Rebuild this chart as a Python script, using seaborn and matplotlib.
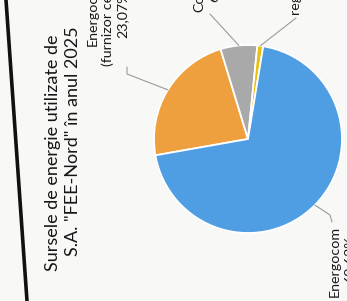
import matplotlib
matplotlib.use("Agg")
import matplotlib.pyplot as plt
import numpy as np
import seaborn as sns

# data (slices in drawing order, clockwise)
sources = ["Energocom (furnizor central)", "Contracte bilaterale", "regenerabile", "Energocom"]
shares = [23.07, 6.30, 1.00, 69.63]
share_labels = ["23,07%", "6,30%", "1,00%", "69,63%"]
colors = ["#eea03e", "#a9a9a9", "#e9bf12", "#4f9ee3"]
title_lines = ["Sursele de energie utilizate de", 'S.A. "FEE-Nord" în anul 2025']

sns.set_theme(style="white")
plt.rcParams["font.family"] = ["Lato", "DejaVu Sans"]

W, H = 347, 301
fig = plt.figure(figsize=(W / 100, H / 100), dpi=100, facecolor="#f8f8f7")

def px(x, y):
    return (x / W, 1 - y / H)

# pie axes: centre (248,139), radius 94 px
cx, cy, r = 248, 139, 94
ax = fig.add_axes([(cx - r) / W, (H - cy - r) / H, 2 * r / W, 2 * r / H])
ax.set_facecolor("none")
wedges, _ = ax.pie(shares, colors=colors, startangle=190, counterclock=False,
                   radius=1, wedgeprops=dict(edgecolor="white", linewidth=1.3))
ax.set_xlim(-1, 1)
ax.set_ylim(-1, 1)
ax.set_aspect("auto")
ax.axis("off")

# photo edge of the sheet
fig.add_artist(plt.Line2D([6 / W, 27 / W], [1, 0], color="#111111", lw=2.6))

# title (rotated with the page)
tc = "#161616"
fig.text(*px(53, 271), title_lines[0], rotation=90, ha="center", va="bottom",
         fontsize=13, color=tc)
fig.text(*px(73, 256), title_lines[1], rotation=90, ha="center", va="bottom",
         fontsize=13, color=tc)

# data labels
lc = "#1a1a1a"
fs = 10.3
fig.text(*px(93, 46), "Energocom", rotation=90, ha="center", va="bottom", fontsize=fs, color=lc)
fig.text(*px(108, 66), "(furnizor central de energie)", rotation=90, ha="center", va="bottom", fontsize=fs, color=lc)
fig.text(*px(122, 38), share_labels[0], rotation=90, ha="center", va="bottom", fontsize=fs, color=lc)

fig.text(*px(199, 12), "Contracte", rotation=90, ha="center", va="bottom", fontsize=fs, color=lc)
fig.text(*px(213, 2), share_labels[1], rotation=90, ha="center", va="bottom", fontsize=fs, color=lc)

fig.text(*px(295, 14), "regenerabile", rotation=90, ha="center", va="bottom", fontsize=fs, color=lc)

fig.text(*px(335, 297), sources[3], rotation=90, ha="center", va="bottom", fontsize=fs, color=lc)
fig.text(*px(349, 283), share_labels[3], rotation=90, ha="center", va="bottom", fontsize=fs, color=lc)

# leader lines: from wedge mid-angle on the rim to the label
elbows = [[(127, 74), (127, 67)], [(210, 14)], [(287, 25), (296, 18)], [(330, 215), (332, 222)]]
for w, pts in zip(wedges, elbows):
    mid = np.deg2rad((w.theta1 + w.theta2) / 2)
    sx, sy = ax.transData.transform((1.0 * np.cos(mid), 1.0 * np.sin(mid)))
    xs = [sx / W] + [p[0] / W for p in pts]
    ys = [sy / H] + [1 - p[1] / H for p in pts]
    fig.add_artist(plt.Line2D(xs, ys, color="#9a9a9a", lw=0.8))

fig.savefig("out.png", dpi=100, facecolor=fig.get_facecolor())
